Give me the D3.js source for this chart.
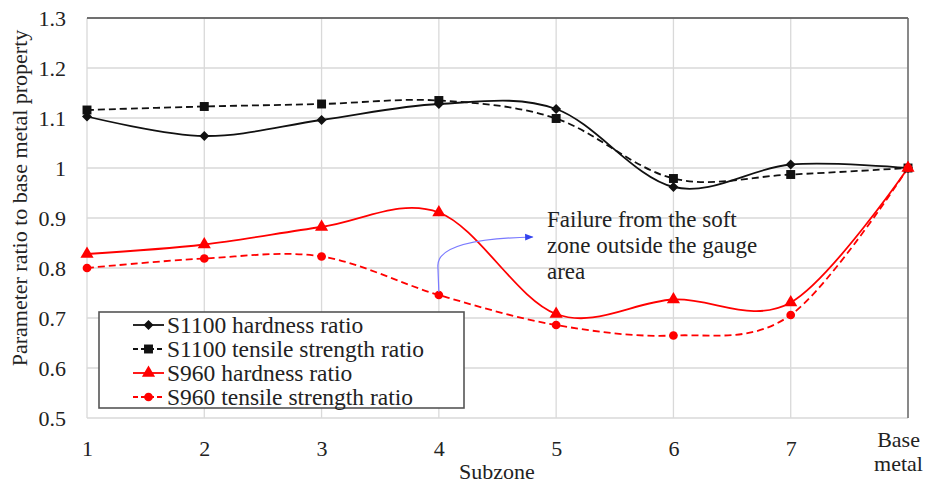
<!DOCTYPE html>
<html>
<head>
<meta charset="utf-8">
<script src="https://cdn.jsdelivr.net/npm/d3@7"></script>
<style>
  html, body { margin: 0; padding: 0; background: #fff; }
  svg text { font-family: "Liberation Serif", "Times New Roman", Tinos, "DejaVu Serif", "Noto Serif", serif !important; fill: #222; }
</style>
</head>
<body>
<svg id="chart" width="928" height="485"></svg>
<script>
// ---------- data ----------
const categories = ["1", "2", "3", "4", "5", "6", "7", "Base metal"];
const yTicks = [0.5, 0.6, 0.7, 0.8, 0.9, 1.0, 1.1, 1.2, 1.3];
const yTickLabels = ["0.5", "0.6", "0.7", "0.8", "0.9", "1", "1.1", "1.2", "1.3"];
const s1100Hardness = [1.103, 1.064, 1.096, 1.128, 1.118, 0.962, 1.007, 1.0];
const s1100Tensile  = [1.116, 1.123, 1.128, 1.135, 1.099, 0.979, 0.987, 1.0];
const s960Hardness  = [0.828, 0.847, 0.882, 0.911, 0.708, 0.737, 0.731, 1.0];
const s960Tensile   = [0.800, 0.819, 0.823, 0.746, 0.686, 0.665, 0.706, 1.0];
const seriesNames = ["S1100 hardness ratio", "S1100 tensile strength ratio", "S960 hardness ratio", "S960 tensile strength ratio"];
const annotationLines = ["Failure from the soft", "zone outside the gauge", "area"];

// ---------- layout ----------
const W = 928, H = 485;
const margin = { left: 87, right: 20, top: 18, bottom: 67 };
const svg = d3.select("#chart");
const x = d3.scalePoint().domain(categories).range([margin.left, W - margin.right]).padding(0);
const y = d3.scaleLinear().domain([0.5, 1.3]).range([H - margin.bottom, margin.top]);
const xl = d3.scaleLinear().domain([0, categories.length - 1]).range([margin.left, W - margin.right]);
const FONT = '"Liberation Serif", "Times New Roman", Tinos, "DejaVu Serif", "Noto Serif", serif';

// gridlines
const grid = svg.append("g");
grid.selectAll("line.h").data(yTicks).join("line")
  .attr("x1", margin.left).attr("x2", W - margin.right)
  .attr("y1", d => y(d)).attr("y2", d => y(d))
  .attr("stroke", "#d9d9d9").attr("stroke-width", 1.3);
grid.selectAll("line.v").data(categories).join("line")
  .attr("x1", d => x(d)).attr("x2", d => x(d))
  .attr("y1", margin.top).attr("y2", H - margin.bottom)
  .attr("stroke", "#d9d9d9").attr("stroke-width", 1.3);

// top and right frame lines (dark)
svg.append("line").attr("x1", margin.left).attr("x2", W - margin.right)
  .attr("y1", y(1.3)).attr("y2", y(1.3)).attr("stroke", "#4a4a4a").attr("stroke-width", 1.5);
svg.append("line").attr("x1", W - margin.right).attr("x2", W - margin.right)
  .attr("y1", y(1.3)).attr("y2", y(0.5)).attr("stroke", "#6a6a6a").attr("stroke-width", 1.5);

// axes
const yAxis = d3.axisLeft(y).tickValues(yTicks).tickSize(0).tickPadding(21)
  .tickFormat((d, i) => yTickLabels[i]);
const gy = svg.append("g").attr("transform", `translate(${margin.left},0)`).call(yAxis)
  .attr("font-family", FONT);
gy.select(".domain").remove();
gy.selectAll("text").style("font-size", "22px").attr("fill", "#222");

const xAxis = d3.axisBottom(x).tickSize(0).tickPadding(22);
const gx = svg.append("g").attr("transform", `translate(0,${H - margin.bottom})`).call(xAxis)
  .attr("font-family", FONT);
gx.select(".domain").remove();
gx.selectAll("text").style("font-size", "22px").attr("fill", "#222")
  .each(function(d) {
    if (d.indexOf(" ") >= 0) {
      const t = d3.select(this);
      const parts = d.split(" ");
      t.text(null);
      t.attr("dy", null).attr("y", 29);
      parts.forEach((p, i) => t.append("tspan").attr("x", -10).attr("dy", i === 0 ? 0 : 24).text(p));
    }
  });

// axis titles
svg.append("text").attr("x", 497).attr("y", 479)
  .attr("text-anchor", "middle").style("font-size", "22px").text("Subzone");
svg.append("text").attr("transform", `translate(27,${198}) rotate(-90)`)
  .attr("text-anchor", "middle").style("font-size", "22px")
  .text("Parameter ratio to base metal property");

// series
const series = [
  { name: seriesNames[0], values: s1100Hardness, color: "#111", dash: null, symbol: "diamond" },
  { name: seriesNames[1], values: s1100Tensile, color: "#111", dash: "7,4", symbol: "square" },
  { name: seriesNames[2], values: s960Hardness, color: "#ff0000", dash: null, symbol: "triangle" },
  { name: seriesNames[3], values: s960Tensile, color: "#ff0000", dash: "7,4", symbol: "circle" }
];

function symbolPath(kind) {
  if (kind === "diamond") return "M0,-5L5,0L0,5L-5,0Z";
  if (kind === "square") return d3.symbol(d3.symbolSquare, 80)();
  if (kind === "triangle") return d3.symbol(d3.symbolTriangle, 75)();
  return d3.symbol(d3.symbolCircle, 60)();
}

const line = d3.line().curve(d3.curveCatmullRom.alpha(0))
  .x((d, i) => x(categories[i])).y(d => y(d));

const gSeries = svg.append("g");
series.forEach(s => {
  gSeries.append("path").datum(s.values)
    .attr("d", line).attr("fill", "none").attr("stroke", s.color)
    .attr("stroke-width", 1.8).attr("stroke-dasharray", s.dash);
});
series.forEach(s => {
  gSeries.append("g").selectAll("path").data(s.values).join("path")
    .attr("transform", (d, i) => `translate(${x(categories[i])},${y(d)})`)
    .attr("d", symbolPath(s.symbol)).attr("fill", s.color);
});

// annotation arrow
svg.append("defs").append("marker").attr("id", "arrow")
  .attr("viewBox", "0 0 10 10").attr("refX", 9).attr("refY", 5)
  .attr("markerWidth", 7).attr("markerHeight", 7).attr("orient", "auto")
  .append("path").attr("d", "M0,1L10,5L0,9Z").attr("fill", "#3344ee");
const ax0 = x("4"), ay0 = y(s960Tensile[3]) - 3;
const ay1 = y(0.805), ax2 = xl(3.8), ay2 = y(0.862);
svg.append("path")
  .attr("d", `M${ax0},${ay0} L${ax0 - 1},${ay1} Q${ax0 - 1},${ay2 + 2} ${ax2},${ay2}`)
  .attr("fill", "none").attr("stroke", "#7a7aff").attr("stroke-width", 1.2)
  .attr("marker-end", "url(#arrow)");

const ann = svg.append("text").attr("x", 547).attr("y", 227).style("font-size", "23px");
annotationLines.forEach((t, i) => ann.append("tspan").attr("x", 547).attr("dy", i === 0 ? 0 : 26).text(t));

// legend
const lg = svg.append("g");
lg.append("rect").attr("x", 99).attr("y", 312).attr("width", 365).attr("height", 96)
  .attr("fill", "#fff").attr("stroke", "#555").attr("stroke-width", 1.6);
const rowY = [325, 349, 373, 397];
series.forEach((s, i) => {
  lg.append("line").attr("x1", 133).attr("x2", 164).attr("y1", rowY[i]).attr("y2", rowY[i])
    .attr("stroke", s.color).attr("stroke-width", 1.8).attr("stroke-dasharray", s.dash ? "5,3" : null);
  lg.append("path").attr("transform", `translate(148.5,${rowY[i]})`)
    .attr("d", symbolPath(s.symbol)).attr("fill", s.color);
  lg.append("text").attr("x", 167).attr("y", rowY[i] + 8).style("font-size", "23.5px").text(s.name);
});
</script>
</body>
</html>
